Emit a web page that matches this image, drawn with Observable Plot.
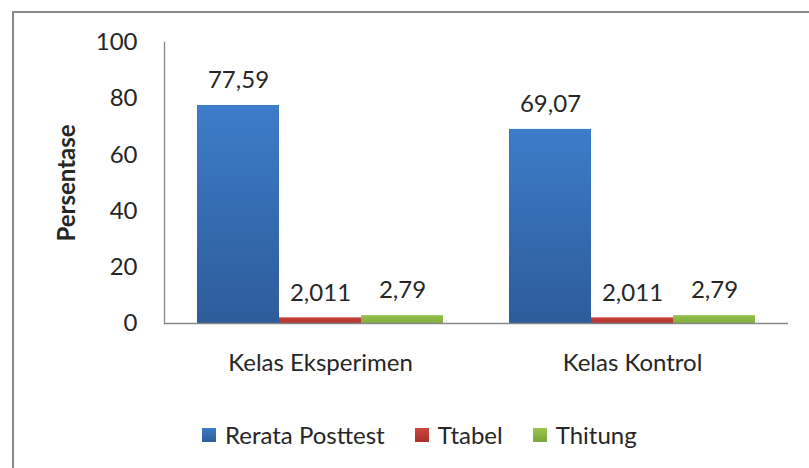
<!DOCTYPE html>
<html>
<head>
<meta charset="utf-8">
<script src="https://cdn.jsdelivr.net/npm/d3@7"></script>
<script src="https://cdn.jsdelivr.net/npm/@observablehq/plot@0.6"></script>
<style>
  html, body { margin: 0; padding: 0; background: #fff; }
  #wrap { position: relative; width: 809px; height: 468px; overflow: hidden; font-family: Lato, "Open Sans", sans-serif; color: #262626; }
  #bt { position: absolute; left: 12px; top: 11px; width: 797px; height: 2px; background: #8a8a8a; }
  #bl { position: absolute; left: 12px; top: 11px; width: 2px; height: 457px; background: #8a8a8a; }
  #chart { position: absolute; left: 0; top: 0; }
  #ytitle { position: absolute; left: 65px; top: 183px; transform: translate(-50%, -50%) rotate(-90deg); font-size: 24px; font-weight: bold; white-space: nowrap; }
  #legend { position: absolute; top: 420px; left: 202px; display: flex; align-items: center; font-size: 24px; white-space: nowrap; }
  .item { display: flex; align-items: center; }
  .sw { width: 14px; height: 14px; margin-right: 9px; }
</style>
</head>
<body>
<div id="wrap">
  <div id="bt"></div>
  <div id="bl"></div>
  <div id="chart"></div>
  <div id="ytitle">Persentase</div>
  <div id="legend"></div>
</div>
<script>
const categories = ["Kelas Eksperimen", "Kelas Kontrol"];
const series = ["Rerata Posttest", "Ttabel", "Thitung"];
const rerataPosttest = [77.59, 69.07];
const ttabel = [2.011, 2.011];
const thitung = [2.79, 2.79];
const yTicks = [0, 20, 40, 60, 80, 100];
const colors = ["url(#gBlue)", "url(#gRed)", "url(#gGreen)"];
const legendColors = ["linear-gradient(#3d7cc9,#2d5c9a)", "linear-gradient(#d0463f,#a8302b)", "linear-gradient(#9cc451,#7aa53a)"];

const seriesValues = [rerataPosttest, ttabel, thitung];
const data = [];
categories.forEach((c, i) => {
  series.forEach((s, j) => {
    data.push({cat: c, series: s, value: seriesValues[j][i]});
  });
});
const fmt = v => String(v).replace(".", ",");

const chart = Plot.plot({
  width: 809,
  height: 400,
  marginLeft: 164,
  marginRight: 21,
  marginTop: 42,
  marginBottom: 77,
  style: {fontFamily: "Lato, 'Open Sans', sans-serif", color: "#262626", background: "transparent"},
  fx: {domain: categories, padding: 0},
  x: {domain: series, paddingInner: 0, paddingOuter: 0.38, axis: null},
  y: {domain: [0, 100]},
  color: {domain: series, range: colors},
  marks: [
    Plot.barY(data, {fx: "cat", x: "series", y: "value", fill: "series"}),
    Plot.text(data, {fx: "cat", x: "series", y: "value", text: d => fmt(d.value), dy: -25, fontSize: 24, fill: "#262626"}),
    Plot.ruleY([0], {stroke: "#868686", strokeWidth: 1.3}),
    Plot.frame({anchor: "left", facetAnchor: "left", stroke: "#868686", strokeWidth: 1.3}),
    Plot.axisY({ticks: yTicks, tickSize: 0, tickPadding: 27, fontSize: 24, label: null}),
    Plot.axisFx({anchor: "bottom", tickSize: 0, tickPadding: 30, fontSize: 24, label: null})
  ]
});

const svg = d3.select(chart);
const defs = svg.insert("defs", ":first-child");
function grad(id, top, bottom) {
  const g = defs.append("linearGradient").attr("id", id).attr("x1", 0).attr("y1", 0).attr("x2", 0).attr("y2", 1);
  g.append("stop").attr("offset", "0%").attr("stop-color", top);
  g.append("stop").attr("offset", "100%").attr("stop-color", bottom);
}
grad("gBlue", "#3d7cc9", "#2d5c9a");
grad("gRed", "#c8423c", "#b0332e");
grad("gGreen", "#94c04b", "#80ad3c");
document.getElementById("chart").appendChild(chart);

const legend = document.getElementById("legend");
series.forEach((s, j) => {
  const it = document.createElement("div");
  it.className = "item";
  it.style.marginRight = j < series.length - 1 ? "30px" : "0";
  const sw = document.createElement("div");
  sw.className = "sw";
  sw.style.background = legendColors[j];
  const t = document.createElement("span");
  t.textContent = s;
  it.appendChild(sw);
  it.appendChild(t);
  legend.appendChild(it);
});
</script>
</body>
</html>
